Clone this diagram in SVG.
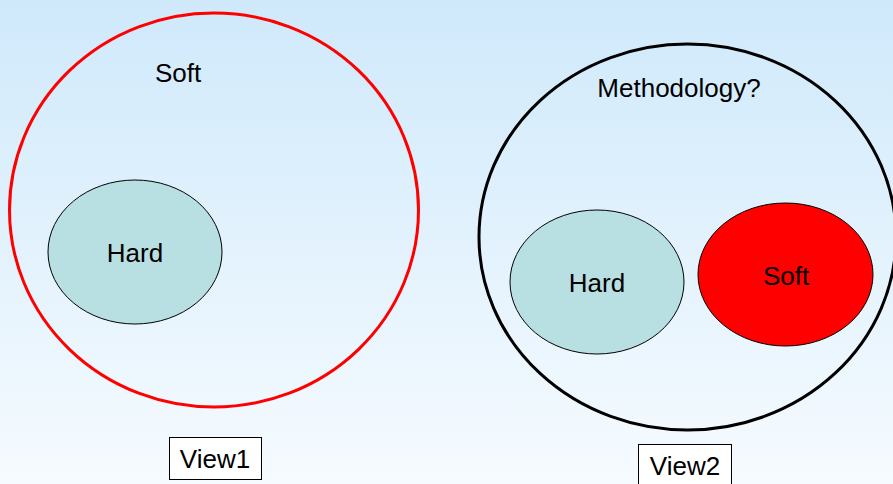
<svg xmlns="http://www.w3.org/2000/svg" width="893" height="484" viewBox="0 0 893 484">
<defs>
<linearGradient id="bg" x1="0" y1="0" x2="0" y2="1">
<stop offset="0" stop-color="#cfe9fb"/>
<stop offset="1" stop-color="#f6fbff"/>
</linearGradient>
<style>
text{font-family:"Liberation Sans",Arial,sans-serif;font-size:26px;fill:#000;text-anchor:middle}
.hard{fill:#b8dfe2;stroke:#000;stroke-width:1}
.box{fill:#fff;stroke:#000;stroke-width:1}
</style>
</defs>
<rect width="893" height="484" fill="url(#bg)"/>
<g id="view1-outer">
<ellipse cx="214" cy="210" rx="204.5" ry="197" fill="none" stroke="#ff0000" stroke-width="3"/>
<text x="178" y="82">Soft</text>
</g>
<g id="view1-hard">
<ellipse class="hard" cx="135" cy="252" rx="87" ry="72"/>
<text x="135" y="262">Hard</text>
</g>
<g id="view1-label">
<rect class="box" x="169.5" y="437.5" width="92" height="42"/>
<text x="215" y="468">View1</text>
</g>
<g id="view2-outer">
<ellipse cx="687.5" cy="237" rx="208.5" ry="193" fill="none" stroke="#000" stroke-width="3"/>
<text x="679" y="97">Methodology?</text>
</g>
<g id="view2-hard">
<ellipse class="hard" cx="597" cy="282" rx="87" ry="72"/>
<text x="597" y="292">Hard</text>
</g>
<g id="view2-soft">
<ellipse cx="785.5" cy="274.5" rx="87.5" ry="71.5" fill="#ff0000" stroke="#000" stroke-width="1"/>
<text x="786" y="285">Soft</text>
</g>
<g id="view2-label">
<rect class="box" x="638.5" y="444.5" width="93" height="44"/>
<text x="685" y="475">View2</text>
</g>
<g id="connectors"></g>
</svg>
